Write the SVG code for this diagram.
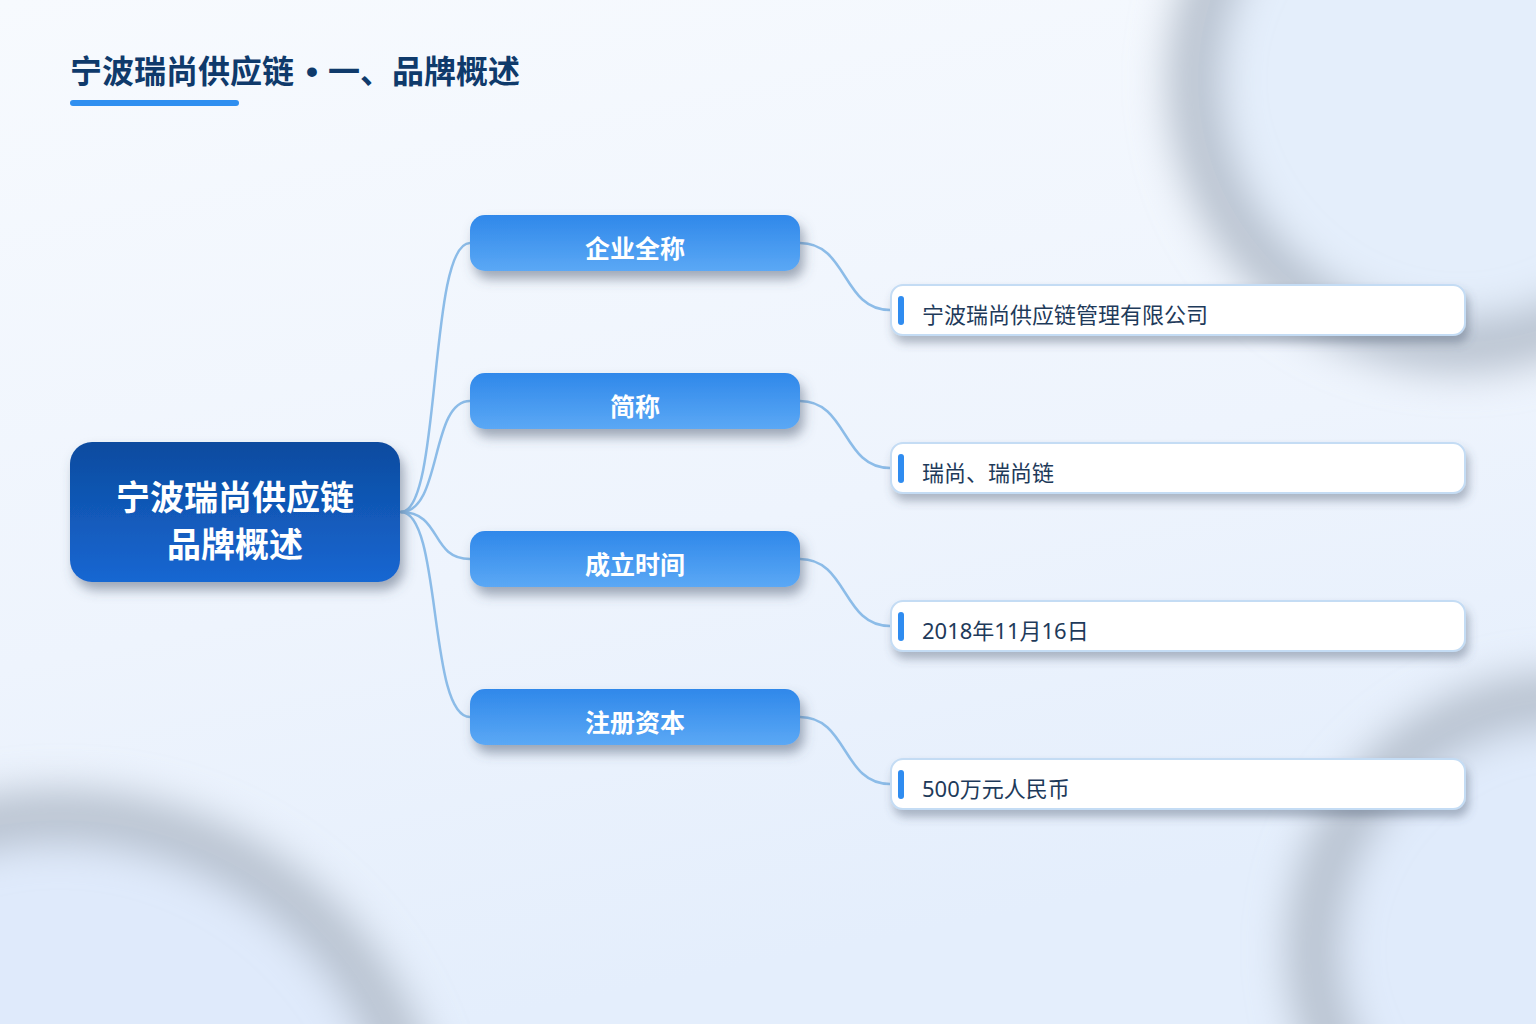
<svg xmlns="http://www.w3.org/2000/svg" width="1536" height="1024" viewBox="0 0 1536 1024">
  <defs>
    <linearGradient id="bg" x1="0" y1="0" x2="0.3" y2="1">
      <stop offset="0" stop-color="#f7fafe"/>
      <stop offset="0.6" stop-color="#eef4fd"/>
      <stop offset="1" stop-color="#e4eefc"/>
    </linearGradient>
    <linearGradient id="rootGrad" x1="0" y1="0" x2="0" y2="1">
      <stop offset="0" stop-color="#0d4b9f"/>
      <stop offset="1" stop-color="#1667d2"/>
    </linearGradient>
    <linearGradient id="branchGrad" x1="0" y1="0" x2="0" y2="1">
      <stop offset="0" stop-color="#2f88ea"/>
      <stop offset="1" stop-color="#5ba8f5"/>
    </linearGradient>
    <filter id="ringBlur" x="-30%" y="-30%" width="160%" height="160%">
      <feGaussianBlur stdDeviation="20"/>
    </filter>
    <filter id="shadow" x="-10%" y="-20%" width="125%" height="160%">
      <feDropShadow dx="4" dy="8" stdDeviation="6" flood-color="#4a5a70" flood-opacity="0.5"/>
    </filter>
    <filter id="shadowLeaf" x="-5%" y="-20%" width="112%" height="170%">
      <feDropShadow dx="3" dy="7" stdDeviation="5" flood-color="#4a5a70" flood-opacity="0.4"/>
    </filter>
  </defs>
  <style>
    .title { font-family: "Noto Sans CJK SC", "Liberation Sans", sans-serif; font-weight: 700; font-size: 32px; fill: #0f3a6b; }
    .bullet { font-family: "Liberation Sans", sans-serif; font-weight: 700; font-size: 34px; fill: #0f3a6b; text-anchor: middle; }
    .rootText { font-family: "Noto Sans CJK SC", "Liberation Sans", sans-serif; font-weight: 700; font-size: 34px; fill: #ffffff; text-anchor: middle; }
    .branchText { font-family: "Noto Sans CJK SC", "Liberation Sans", sans-serif; font-weight: 700; font-size: 25px; fill: #ffffff; text-anchor: middle; }
    .leafText { font-family: "Noto Sans", "Noto Sans CJK SC", sans-serif; font-weight: 400; font-size: 22px; fill: #1e3a5a; }
    .branchBox { fill: url(#branchGrad); filter: url(#shadow); }
    .leafBox { fill: #ffffff; stroke: #c4dcf4; stroke-width: 2; filter: url(#shadowLeaf); }
    .accent { fill: #2f8cf0; }
    .link { fill: none; stroke: #8cbce8; stroke-width: 2.5; stroke-linecap: round; }
    .ring { fill: none; stroke: #b6c0cd; stroke-width: 50; filter: url(#ringBlur); }
  </style>

  <!-- background -->
  <rect x="0" y="0" width="1536" height="1024" fill="url(#bg)"/>
  <g id="decor">
    <circle cx="1460" cy="80" r="262" fill="#e4eefb"/>
    <circle cx="1460" cy="80" r="266" class="ring"/>
    <circle cx="1565" cy="950" r="248" fill="#e0ebfb"/>
    <circle cx="1565" cy="950" r="252" class="ring"/>
    <circle cx="60" cy="1180" r="360" fill="#dfeafb"/>
    <circle cx="60" cy="1180" r="364" class="ring"/>
  </g>

  <!-- title -->
  <g id="title">
    <text class="title" x="70" y="83">宁波瑞尚供应链</text>
    <text class="bullet" x="312" y="83">•</text>
    <text class="title" x="328" y="83">一、品牌概述</text>
    <rect x="70" y="100" width="169" height="6" rx="3" fill="#2f8ff0"/>
  </g>

  <!-- connectors -->
  <g id="connectors">
    <path class="link" d="M401,512 C442,512 428,243 470,243"/>
    <path class="link" d="M401,512 C442,512 430,401 470,401"/>
    <path class="link" d="M401,512 C442,512 430,559 470,559"/>
    <path class="link" d="M401,512 C442,512 428,717 470,717"/>
    <path class="link" d="M800,243 C848,243 842,310 890,310"/>
    <path class="link" d="M800,401 C848,401 842,468 890,468"/>
    <path class="link" d="M800,559 C848,559 842,626 890,626"/>
    <path class="link" d="M800,717 C848,717 842,784 890,784"/>
  </g>

  <!-- root -->
  <g id="root">
    <rect x="70" y="442" width="330" height="140" rx="22" fill="url(#rootGrad)" filter="url(#shadow)"/>
    <text class="rootText" x="235" y="510">宁波瑞尚供应链</text>
    <text class="rootText" x="235" y="557">品牌概述</text>
  </g>

  <!-- branches -->
  <g id="branch-fullname">
    <rect class="branchBox" x="470" y="215" width="330" height="56" rx="15"/>
    <text class="branchText" x="635" y="258">企业全称</text>
  </g>
  <g id="branch-short">
    <rect class="branchBox" x="470" y="373" width="330" height="56" rx="15"/>
    <text class="branchText" x="635" y="416">简称</text>
  </g>
  <g id="branch-founded">
    <rect class="branchBox" x="470" y="531" width="330" height="56" rx="15"/>
    <text class="branchText" x="635" y="574">成立时间</text>
  </g>
  <g id="branch-capital">
    <rect class="branchBox" x="470" y="689" width="330" height="56" rx="15"/>
    <text class="branchText" x="635" y="732">注册资本</text>
  </g>

  <!-- leaves -->
  <g id="leaf-fullname">
    <rect class="leafBox" x="891" y="285" width="574" height="50" rx="12"/>
    <rect class="accent" x="898" y="296" width="6" height="29" rx="3"/>
    <text class="leafText" x="922" y="323">宁波瑞尚供应链管理有限公司</text>
  </g>
  <g id="leaf-short">
    <rect class="leafBox" x="891" y="443" width="574" height="50" rx="12"/>
    <rect class="accent" x="898" y="454" width="6" height="29" rx="3"/>
    <text class="leafText" x="922" y="481">瑞尚、瑞尚链</text>
  </g>
  <g id="leaf-founded">
    <rect class="leafBox" x="891" y="601" width="574" height="50" rx="12"/>
    <rect class="accent" x="898" y="612" width="6" height="29" rx="3"/>
    <text class="leafText" x="922" y="639">2018年11月16日</text>
  </g>
  <g id="leaf-capital">
    <rect class="leafBox" x="891" y="759" width="574" height="50" rx="12"/>
    <rect class="accent" x="898" y="770" width="6" height="29" rx="3"/>
    <text class="leafText" x="922" y="797">500万元人民币</text>
  </g>
</svg>
